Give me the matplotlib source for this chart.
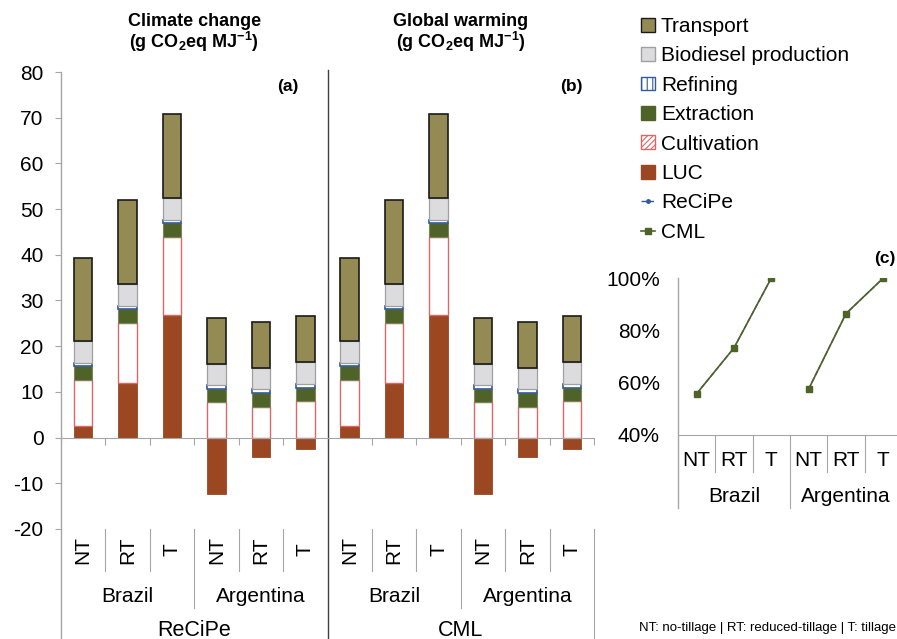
import matplotlib
matplotlib.use('Agg')
import matplotlib.pyplot as plt
import numpy as np
from matplotlib.patches import Patch
from matplotlib.lines import Line2D
from matplotlib.transforms import blended_transform_factory
from matplotlib.ticker import FuncFormatter

plt.rcParams['font.family'] = ['Liberation Sans', 'DejaVu Sans']
plt.rcParams['mathtext.fontset'] = 'custom'
plt.rcParams['mathtext.rm'] = 'Liberation Sans'
plt.rcParams['mathtext.bf'] = 'Liberation Sans:bold'
plt.rcParams['hatch.linewidth'] = 0.8
plt.rcParams['axes.unicode_minus'] = False

# ---------------- data ----------------
methods = ['ReCiPe', 'CML']
countries = ['Brazil', 'Argentina']
tillages = ['NT', 'RT', 'T']

# order: Brazil NT, RT, T, Argentina NT, RT, T  (g CO2eq MJ-1)
recipe_luc = [2.6, 12.0, 26.9, -12.3, -4.3, -2.4]
recipe_cultivation = [10.1, 13.0, 16.9, 7.7, 6.7, 8.0]
recipe_extraction = [3.0, 3.2, 3.1, 3.0, 3.1, 2.9]
recipe_refining = [0.6, 0.5, 0.7, 0.8, 0.8, 0.8]
recipe_biodiesel = [4.9, 4.9, 4.8, 4.6, 4.6, 4.8]
recipe_transport = [18.2, 18.3, 18.4, 10.1, 10.0, 10.0]

cml_luc = [2.6, 12.0, 26.9, -12.3, -4.3, -2.4]
cml_cultivation = [10.1, 13.0, 16.9, 7.7, 6.7, 8.0]
cml_extraction = [3.0, 3.2, 3.1, 3.0, 3.1, 2.9]
cml_refining = [0.6, 0.5, 0.7, 0.8, 0.8, 0.8]
cml_biodiesel = [4.9, 4.9, 4.8, 4.6, 4.6, 4.8]
cml_transport = [18.2, 18.3, 18.4, 10.1, 10.0, 10.0]

# relative to tillage (panel c)
recipe_rel = [0.558, 0.733, 1.0, 0.576, 0.864, 1.0]
cml_rel = [0.558, 0.733, 1.0, 0.576, 0.864, 1.0]

# ---------------- styles ----------------
C_TRANS = '#948A54'
C_BIO = '#DCDCDE'
C_REF = '#2E5C9A'
C_EXT = '#4F6228'
C_CULT = '#E06666'
C_LUC = '#9A4722'
C_GRID = '#A6A6A6'
FS = 15

W, H = 897, 639
fig = plt.figure(figsize=(W / 100, H / 100), dpi=100)

def fx(px):
    return px / W

def fy(py):
    return 1 - py / H

# ---------------- main bar chart ----------------
ax = fig.add_axes([fx(61), fy(529), fx(594) - fx(61), fy(72) - fy(529)])

luc = np.array(recipe_luc + cml_luc)
cult = np.array(recipe_cultivation + cml_cultivation)
ext = np.array(recipe_extraction + cml_extraction)
ref = np.array(recipe_refining + cml_refining)
bio = np.array(recipe_biodiesel + cml_biodiesel)
trans = np.array(recipe_transport + cml_transport)

n = len(luc)
x = np.arange(n)
bw = 0.415

ax.bar(x, luc, bw, color=C_LUC, edgecolor=C_LUC, lw=0.6, zorder=3)
base = np.clip(luc, 0, None)
ax.bar(x, cult, bw, bottom=base, facecolor='white', edgecolor=C_CULT, lw=1.0, zorder=3)
base = base + cult
ax.bar(x, ext, bw, bottom=base, color=C_EXT, edgecolor='#7B845E', lw=0.8, zorder=3)
base = base + ext
ax.bar(x, ref, bw, bottom=base, facecolor='white', edgecolor=C_REF, lw=1.2, zorder=3)
base = base + ref
ax.bar(x, bio, bw, bottom=base, color=C_BIO, edgecolor='#A0A0A0', lw=0.9, zorder=3)
base = base + bio
ax.bar(x, trans, bw, bottom=base, color=C_TRANS, edgecolor='#1A1A1A', lw=1.2, zorder=3)

ax.set_xlim(-0.5, n - 0.5)
ax.set_ylim(-20, 80)
ax.set_yticks(np.arange(-20, 81, 10))
ax.tick_params(axis='y', direction='out', length=4.5, color=C_GRID, labelsize=FS, pad=8)
for s in ['top', 'right', 'left']:
    ax.spines[s].set_visible(False)
ax.spines['bottom'].set_position(('data', 0))
ax.spines['bottom'].set_color(C_GRID)
ax.spines['bottom'].set_zorder(4)
ax.set_xticks(np.arange(-0.5, n, 1.0))
ax.set_xticklabels([])
ax.tick_params(axis='x', direction='out', length=5, color=C_GRID)

bt = blended_transform_factory(ax.transData, fig.transFigure)

# left axis line and panel divider lines
ax.plot([-0.5, -0.5], [fy(639), fy(72)], transform=bt, color=C_GRID, lw=1.0, clip_on=False)
ax.plot([5.5, 5.5], [fy(639), fy(70)], transform=bt, color='#404040', lw=1.0, clip_on=False)
ax.plot([n - 0.5, n - 0.5], [fy(639), fy(529)], transform=bt, color=C_GRID, lw=0.8, clip_on=False)

# multi-level category labels
for mi, m in enumerate(methods):
    for ci, c in enumerate(countries):
        for ti, t in enumerate(tillages):
            xi = mi * 6 + ci * 3 + ti
            ax.text(xi, fy(550), t, transform=bt, rotation=90, ha='center', va='center',
                    fontsize=FS)
            if ti > 0:
                ax.plot([xi - 0.5, xi - 0.5], [fy(529), fy(571)], transform=bt,
                        color=C_GRID, lw=0.8, clip_on=False)
        xc = mi * 6 + ci * 3 + 1
        ax.text(xc, fy(596), c, transform=bt, ha='center', va='center', fontsize=FS)
        if ci > 0:
            xs = mi * 6 + ci * 3 - 0.5
            ax.plot([xs, xs], [fy(529), fy(608)], transform=bt, color=C_GRID, lw=0.8,
                    clip_on=False)
    ax.text(mi * 6 + 2.5, fy(630), m, transform=bt, ha='center', va='center', fontsize=15.5)

# titles and panel letters
ax.text(2.5, fy(21), 'Climate change', transform=bt, ha='center', va='center',
        fontsize=13, fontweight='bold')
ax.text(2.5, fy(42), r'(g CO$_\mathbf{2}$eq MJ$^\mathbf{-1}$)', transform=bt, ha='center',
        va='center', fontsize=13, fontweight='bold')
ax.text(8.5, fy(21), 'Global warming', transform=bt, ha='center', va='center',
        fontsize=13, fontweight='bold')
ax.text(8.5, fy(42), r'(g CO$_\mathbf{2}$eq MJ$^\mathbf{-1}$)', transform=bt, ha='center',
        va='center', fontsize=13, fontweight='bold')
ax.text(fx(288), fy(86), '(a)', transform=fig.transFigure, ha='center', va='center',
        fontsize=12.5, fontweight='bold')
ax.text(fx(571), fy(86), '(b)', transform=fig.transFigure, ha='center', va='center',
        fontsize=12.5, fontweight='bold')

# ---------------- panel c ----------------
axc = fig.add_axes([fx(678), fy(435), fx(902) - fx(678), fy(278) - fy(435)])
xc_pos = np.array([0, 1, 2, 3, 4, 5])
for gi in range(len(countries)):
    sl = slice(gi * 3, gi * 3 + 3)
    axc.plot(xc_pos[sl], recipe_rel[sl], ls='--', color=C_REF, lw=1.0, marker='o',
             ms=2.5, zorder=3)
    axc.plot(xc_pos[sl], cml_rel[sl], ls='-', color=C_EXT, lw=1.2, marker='s',
             ms=5, zorder=4)
axc.set_xlim(-0.5, 5.5)
axc.set_ylim(0.4, 1.0)
axc.set_yticks([0.4, 0.6, 0.8, 1.0])
axc.yaxis.set_major_formatter(FuncFormatter(lambda v, p: f'{v * 100:.0f}%'))
axc.tick_params(axis='y', length=0, labelsize=FS, pad=13)
for s in ['top', 'right', 'left']:
    axc.spines[s].set_visible(False)
axc.spines['bottom'].set_color(C_GRID)
axc.set_xticks([])
axc.patch.set_alpha(0)

btc = blended_transform_factory(axc.transData, fig.transFigure)
axc.plot([-0.5, -0.5], [fy(508), fy(278)], transform=btc, color=C_GRID, lw=1.0, clip_on=False)
for ci, c in enumerate(countries):
    for ti, t in enumerate(tillages):
        xi = ci * 3 + ti
        axc.text(xi, fy(460), t, transform=btc, ha='center', va='center', fontsize=FS)
        if ti > 0:
            axc.plot([xi - 0.5, xi - 0.5], [fy(435), fy(472)], transform=btc,
                     color=C_GRID, lw=0.8, clip_on=False)
    axc.text(ci * 3 + 1, fy(497), c, transform=btc, ha='center', va='center', fontsize=FS)
    if ci > 0:
        axc.plot([ci * 3 - 0.5, ci * 3 - 0.5], [fy(435), fy(508)], transform=btc,
                 color=C_GRID, lw=0.8, clip_on=False)
fig.text(fx(885), fy(258), '(c)', ha='center', va='center', fontsize=12.5, fontweight='bold')

# ---------------- legend ----------------
handles = [
    Patch(facecolor=C_TRANS, edgecolor='#1A1A1A', lw=1.0),
    Patch(facecolor=C_BIO, edgecolor='#A0A0A0', lw=1.0),
    Patch(facecolor='white', edgecolor=C_REF, hatch='|||', lw=1.0),
    Patch(facecolor=C_EXT, edgecolor=C_EXT, lw=1.0),
    Patch(facecolor='white', edgecolor=C_CULT, hatch='//////', lw=1.0),
    Patch(facecolor=C_LUC, edgecolor=C_LUC, lw=1.0),
    Line2D([0], [0], color=C_REF, ls='--', lw=1.0, marker='o', ms=2.5),
    Line2D([0], [0], color=C_EXT, ls='-', lw=1.2, marker='s', ms=5),
]
labels = ['Transport', 'Biodiesel production', 'Refining', 'Extraction', 'Cultivation',
          'LUC', 'ReCiPe', 'CML']
fig.legend(handles, labels, loc='upper left', bbox_to_anchor=(fx(641), fy(17)),
           frameon=False, fontsize=FS, handlelength=0.65, handleheight=0.65,
           handletextpad=0.3, labelspacing=0.5, borderaxespad=0, borderpad=0)

fig.text(fx(896), fy(628), 'NT: no-tillage | RT: reduced-tillage | T: tillage', ha='right',
         va='center', fontsize=9.5)

fig.savefig('out.png', dpi=100)
